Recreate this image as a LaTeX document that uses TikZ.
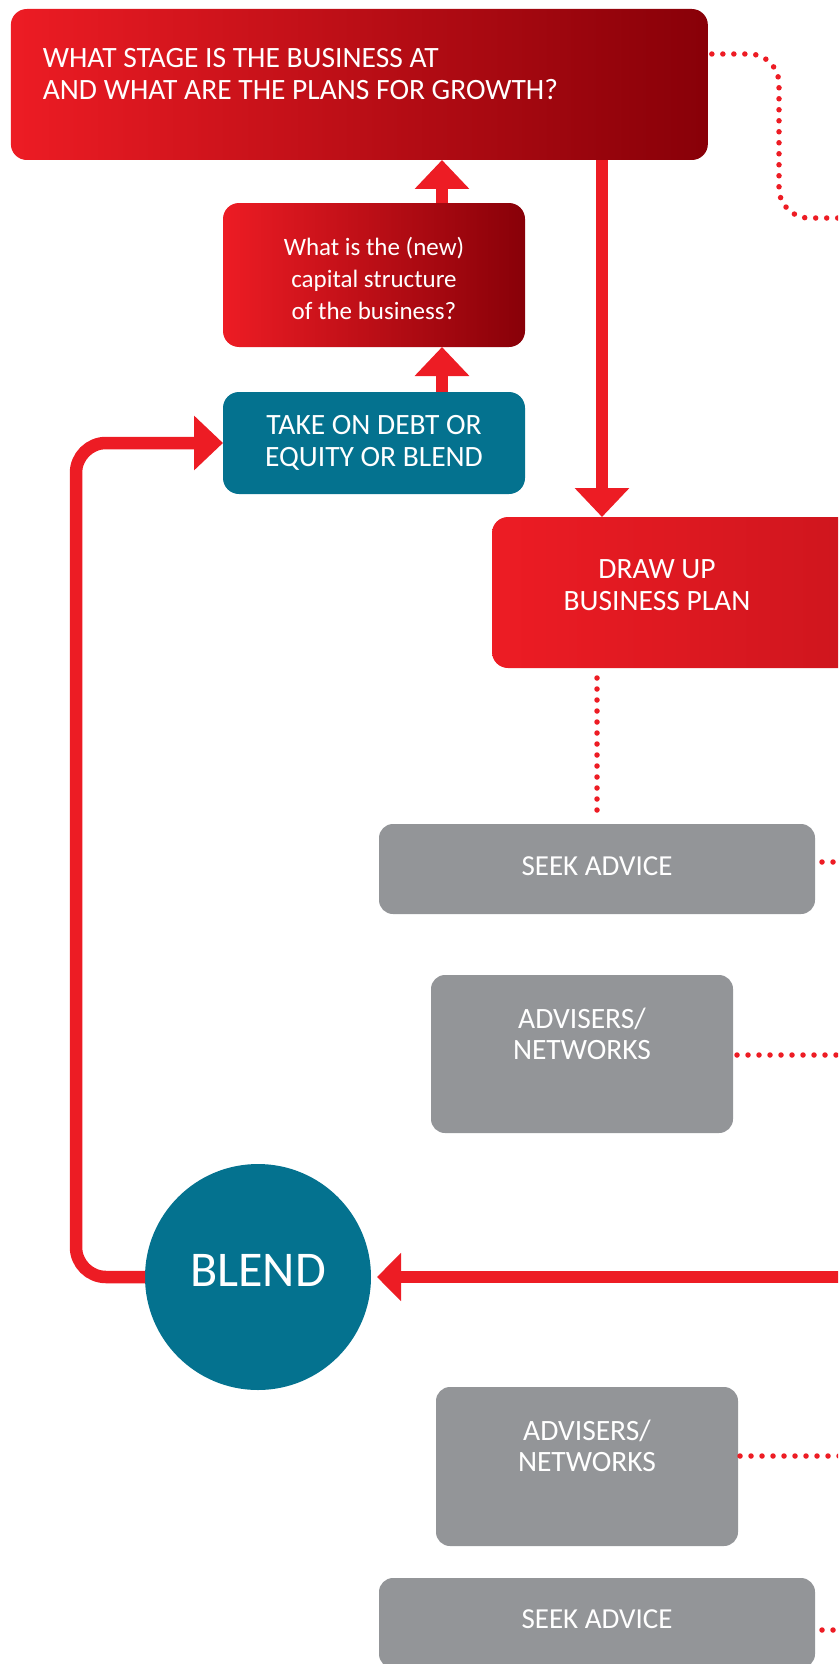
\documentclass[tikz,border=0pt]{standalone}
\usepackage{fontspec}
\setmainfont{Carlito}
\usetikzlibrary{arrows.meta,calc}
\definecolor{brandred}{RGB}{237,28,36}
\definecolor{darkred}{RGB}{136,0,8}
\definecolor{planred}{RGB}{194,19,27}
\definecolor{bteal}{RGB}{4,114,143}
\definecolor{boxgray}{RGB}{147,149,152}
\begin{document}
\begin{tikzpicture}[x=1pt,y=-1pt,
  every node/.style={inner sep=0pt, outer sep=0pt, text=white},
  redbox/.style={rounded corners=16pt, left color=brandred, right color=darkred},
  planbox/.style={rounded corners=16pt, left color=brandred, right color=planred},
  tealbox/.style={rounded corners=16pt, fill=bteal},
  graybox/.style={rounded corners=14pt, fill=boxgray},
  flow/.style={draw=brandred, line width=12.5pt},
  bigtip/.style={-{Triangle[length=29pt,width=53pt]}},
  dots/.style={draw=brandred, line width=5.5pt, line cap=round, dash pattern=on 0pt off 11pt},
]
\useasboundingbox (0,0) rectangle (838,1664);
\clip (0,0) rectangle (838,1664);

% boxes
\node[redbox, minimum width=697pt, minimum height=151pt] (top) at (359.35,84.5)
  {\parbox[c][73pt][t]{633pt}{\raggedright\fontsize{29.5}{32}\selectfont WHAT STAGE IS THE BUSINESS AT\\AND WHAT ARE THE PLANS FOR GROWTH?}};
\node[redbox, minimum width=302pt, minimum height=144pt] (cap) at (374,275)
  {\parbox[c][76pt][t]{302pt}{\centering\fontsize{25}{32}\selectfont What is the (new)\\capital structure\\of the business?}};
\node[tealbox, minimum width=302pt, minimum height=102pt] (take) at (374,443)
  {\parbox[c][56pt][t]{302pt}{\centering\fontsize{29.5}{32}\selectfont TAKE ON DEBT OR\\EQUITY OR BLEND}};
\node[planbox, minimum width=508pt, minimum height=151pt] (plan) at (746,592.5)
  {\parbox[c][65pt][t]{330pt}{\centering\fontsize{29.5}{32}\selectfont DRAW UP\\BUSINESS PLAN}\hspace*{178pt}};
\node[graybox, minimum width=436pt, minimum height=90pt] (seek1) at (597,869)
  {\parbox[c][24pt][t]{436pt}{\centering\fontsize{29}{32}\selectfont SEEK ADVICE}};
\node[graybox, minimum width=302pt, minimum height=158pt] (adv1) at (582,1054)
  {\parbox[c][92pt][t]{302pt}{\centering\fontsize{29.5}{31}\selectfont ADVISERS/\\NETWORKS}};
\node[circle, fill=bteal, minimum size=226pt] (blend) at (258,1277)
  {\fontsize{50}{50}\selectfont\raisebox{14pt}{BLEND}};
\node[graybox, minimum width=302pt, minimum height=159pt] (adv2) at (587,1466.5)
  {\parbox[c][93pt][t]{302pt}{\centering\fontsize{29.5}{31}\selectfont ADVISERS/\\NETWORKS}};
\node[graybox, minimum width=436pt, minimum height=90pt] (seek2) at (597,1623)
  {\parbox[c][26pt][t]{436pt}{\centering\fontsize{29}{32}\selectfont SEEK ADVICE}};

% helper coordinates
\coordinate (ux) at (442,0);
\coordinate (dx) at (602,0);
\coordinate (lx) at (76,0);
\coordinate (dv) at (779,0);
\coordinate (topdotsend) at (850,218);

% solid connectors
\draw[flow, bigtip] (cap.north -| ux) -- (top.south -| ux);
\draw[flow, bigtip] (take.north -| ux) -- (cap.south -| ux);
\draw[flow, bigtip] (top.south -| dx) -- (plan.north -| dx);
\draw[flow, rounded corners=30pt, bigtip] (blend.west) -- (blend.west -| lx) -- (take.west -| lx) -- (take.west);
\draw[flow, -{Triangle[length=24pt,width=47pt]}, shorten >=6pt] ([xshift=480pt]blend.east) -- (blend.east);

% dotted connectors
\draw[dots, rounded corners=30pt] ([xshift=4pt,yshift=30.5pt]top.east) -| (dv |- topdotsend) -- (topdotsend);
\draw[dots, shorten <=10pt, shorten >=7pt] (plan.south -| seek1.north) -- (seek1.north);
\draw[dots] ([xshift=7pt,yshift=7pt]seek1.east) -- ++(100,0);
\draw[dots] ([xshift=4pt,yshift=-1pt]adv1.east) -- ++(150,0);
\draw[dots] ([xshift=2pt,yshift=10.5pt]adv2.east) -- ++(150,0);
\draw[dots] ([xshift=7pt,yshift=-7pt]seek2.east) -- ++(100,0);
\end{tikzpicture}
\end{document}
